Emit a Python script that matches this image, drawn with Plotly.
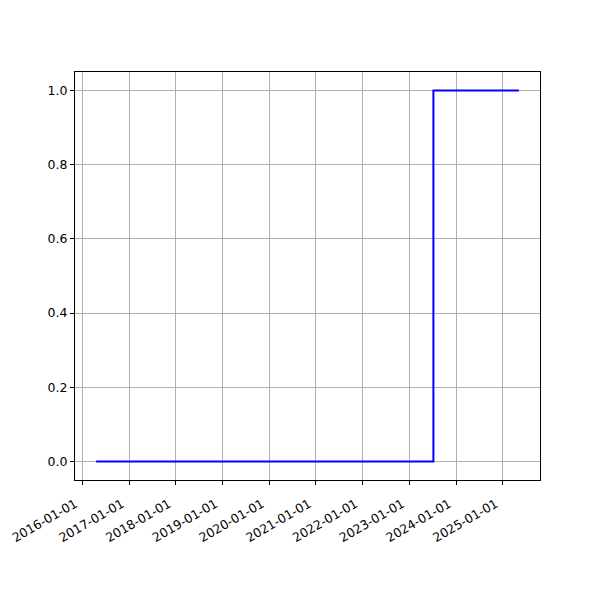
import pandas as pd
import plotly.graph_objects as go

dates = ["2016-04-19", "2023-07-08", "2025-05-06"]
values = [0, 1, 1]
x_ticks = ["2016-01-01", "2017-01-01", "2018-01-01", "2019-01-01", "2020-01-01",
           "2021-01-01", "2022-01-01", "2023-01-01", "2024-01-01", "2025-01-01"]
y_ticks = [0.0, 0.2, 0.4, 0.6, 0.8, 1.0]

d = pd.to_datetime(dates)
pad = (d.max() - d.min()) * 0.05
x_range = [(d.min() - pad).isoformat(), (d.max() + pad).isoformat()]

fig = go.Figure()
fig.add_trace(go.Scatter(x=dates, y=values, mode="lines",
                         line=dict(color="blue", width=2, shape="hv"),
                         showlegend=False))

font = dict(family="DejaVu Sans", size=12.5, color="black")
fig.update_layout(
    width=600, height=600,
    margin=dict(l=67, r=68, t=64, b=128, autoexpand=False),
    paper_bgcolor="white", plot_bgcolor="white",
    font=font,
    xaxis=dict(
        type="date",
        range=x_range,
        tickvals=x_ticks, ticktext=x_ticks, tickangle=-30,
        showgrid=True, gridcolor="#b0b0b0", gridwidth=1,
        showline=True, linecolor="black", linewidth=1, mirror=True,
        ticks="outside", ticklen=4, tickcolor="black", tickwidth=1,
        ticklabelshift=-7, ticklabelstandoff=7,
        zeroline=False, tickfont=font,
    ),
    yaxis=dict(
        range=[-0.05, 1.05],
        tickvals=y_ticks, ticktext=[f"{v:.1f}" for v in y_ticks],
        showgrid=True, gridcolor="#b0b0b0", gridwidth=1,
        showline=True, linecolor="black", linewidth=1, mirror=True,
        ticks="outside", ticklen=4, tickcolor="black", tickwidth=1,
        zeroline=False, tickfont=font,
    ),
)
fig.write_html("out.html")
